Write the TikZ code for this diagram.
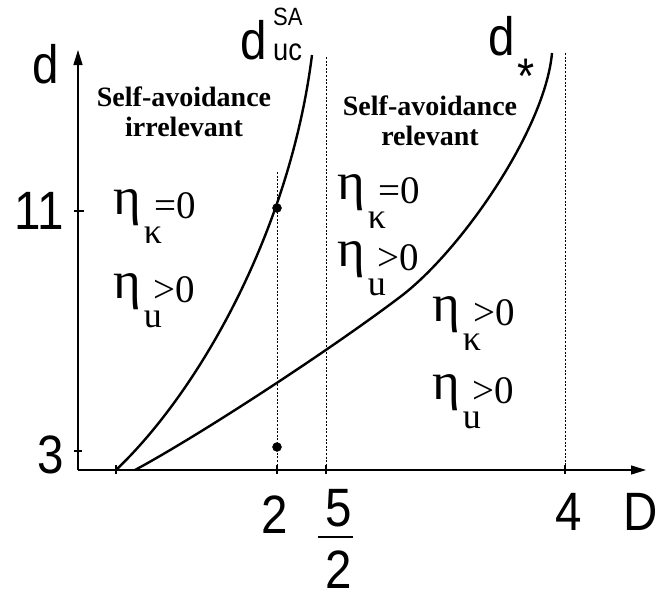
\documentclass[tikz,border=0pt]{standalone}
\usepackage{fontspec}
\setmainfont{Liberation Serif}
\newfontfamily\axfont[FakeStretch=0.88]{Liberation Sans}
\usetikzlibrary{arrows.meta, positioning}

% eta with index below and relation after it
\newcommand{\etalab}[2]{\raisebox{4pt}{\fontsize{53}{53}\selectfont η}\kern3pt\raisebox{-25pt}{\fontsize{36}{36}\selectfont #1}\kern-8pt{\fontsize{39}{39}\selectfont #2}}

\tikzset{
    axisline/.style={line width=1.3pt, -{Triangle[length=15pt,width=9pt]}},
    curveline/.style={line width=2.4pt},
    guideline/.style={line width=0.9pt, dash pattern=on 2pt off 1.6pt},
    tickline/.style={line width=1.3pt},
    axlabel/.style={font=\axfont\fontsize{54}{54}\selectfont, inner sep=0pt},
    regionlabel/.style={font=\bfseries\fontsize{28}{30}\selectfont, align=center, inner sep=0pt, anchor=north},
    etalabel/.style={inner sep=0pt, anchor=base west}
}

\begin{document}
\begin{tikzpicture}[x=1pt, y=-1pt]
    \useasboundingbox (0,0) rectangle (660,597);

    % Axes
    \coordinate (O) at (78,470);
    \coordinate (Dend) at (646,470);
    \coordinate (dend) at (78,50);
    \draw[axisline] (O) -- (Dend);
    \draw[axisline] (O) -- (dend);

    % Ticks on d
    \draw[tickline] (74,211) -- (84,211);
    \draw[tickline] (74,451) -- (82,451);
    \node[axlabel, anchor=base east] (eleven) at (64,229) {11};
    \node[axlabel, anchor=base east] (three) at (64,473) {3};
    \node[axlabel, anchor=base] (dlab) at (46,83) {d};

    % Ticks on D
    \foreach \xx in {116,277,326,565}
        \draw[tickline] (\xx,465) -- (\xx,474);
    \node[axlabel, anchor=base] (two) at (275,533) {2};
    \node[axlabel, anchor=base] (fivenum) at (338.5,526) {5};
    \node[axlabel, anchor=base] (fiveden) at (338.5,588) {2};
    \draw[line width=2pt] (318,537) -- (353,537);
    \node[axlabel, anchor=base] (four) at (568.5,530) {4};
    \node[axlabel, anchor=base] (Dlab) at (641,530) {D};

    % Dotted guides
    \draw[guideline] (277,172) -- (277,470);
    \draw[guideline] (326,57) -- (326,470);
    \draw[guideline] (565,53) -- (565,470);

    % Curve d_uc^SA
    \draw[curveline] (116,470) .. controls (200,390) and (290,230) .. (312,55);
    \node[axlabel, anchor=base] (ducd) at (254,59) {d};
    \node[inner sep=0pt, anchor=base west, font=\axfont\fontsize{25}{25}\selectfont] (ducsup) at (273,25) {SA};
    \node[inner sep=0pt, anchor=base west, font=\axfont\fontsize{31}{31}\selectfont] (ducsub) at (273,60) {uc};

    % Curve d_*
    \draw[curveline] (135,470) .. controls (200,435) and (330,350) .. (400,297)
                                .. controls (460,252) and (545,130) .. (552,53);
    \node[axlabel, anchor=base] (dstar) at (502,55) {d};
    \node[inner sep=0pt, anchor=base west, font=\axfont\fontsize{50}{50}\selectfont] (star) at (517,93) {*};

    % Points at D=2
    \filldraw (277,208) circle (4.5pt);
    \filldraw (277,447) circle (4.5pt);

    % Regions
    \node[regionlabel] (irrel) at (184,87) {Self-avoidance\\irrelevant};
    \node[regionlabel] (rel) at (430,96) {Self-avoidance\\relevant};

    \node[etalabel] (leftk) at (113,218) {\etalab{κ}{=0}};
    \node[etalabel] (leftu) at (113,302) {\etalab{u}{>0}};
    \node[etalabel] (midk) at (337,203) {\etalab{κ}{=0}};
    \node[etalabel] (midu) at (337,270) {\etalab{u}{>0}};
    \node[etalabel] (rightk) at (432,325) {\etalab{κ}{>0}};
    \node[etalabel] (rightu) at (432,403) {\etalab{u}{>0}};
\end{tikzpicture}
\end{document}
